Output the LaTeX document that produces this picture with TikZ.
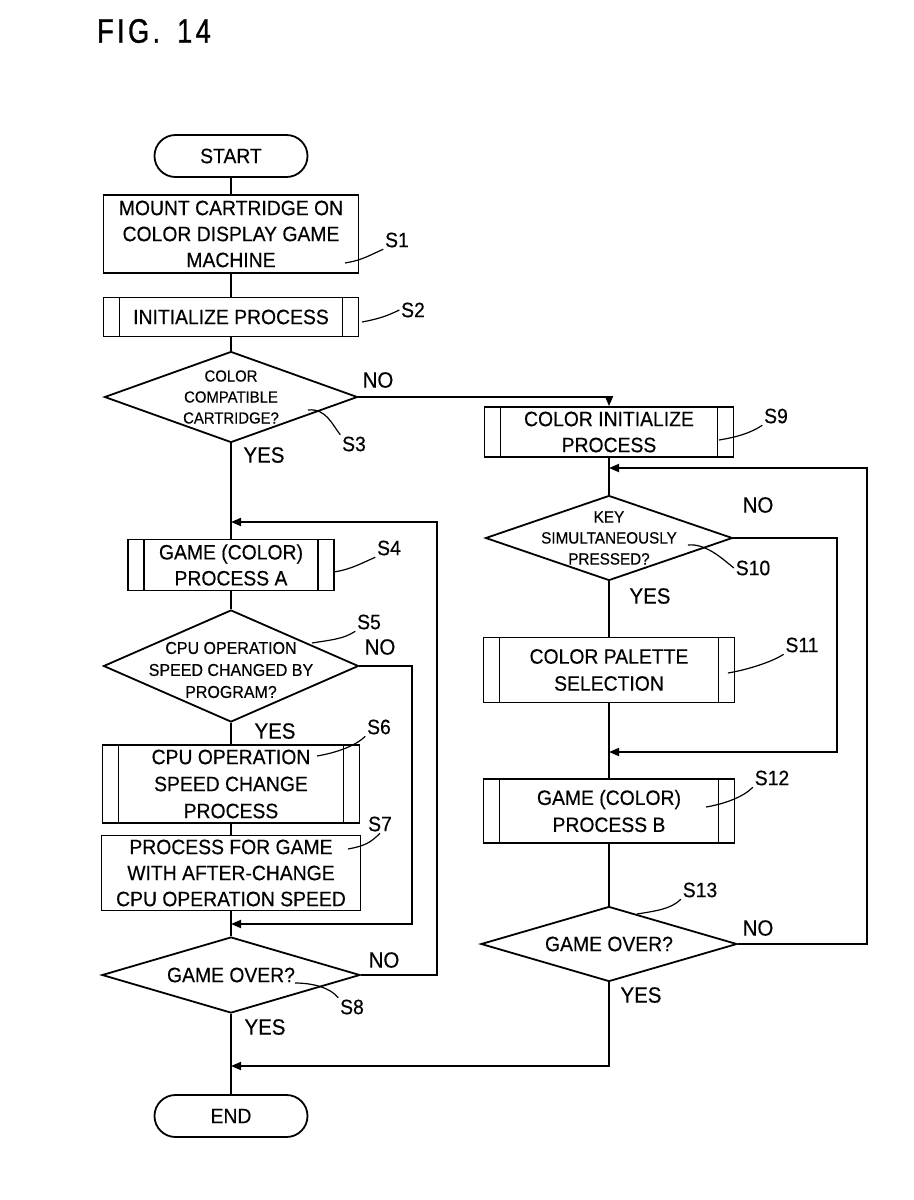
\documentclass[tikz,border=0pt]{standalone}
\usepackage{fontspec}
\setmainfont{Liberation Sans}[FakeStretch=0.93,FakeBold=0.4]
\newfontfamily\figfont{Liberation Sans}[FakeStretch=0.8,LetterSpace=10,FakeBold=1]
\usetikzlibrary{shapes.geometric,arrows.meta,calc}

\begin{document}
\begin{tikzpicture}[x=0.5pt,y=-0.5pt,line width=0.9pt,
    every node/.style={font=\fontsize{10.4}{13}\selectfont},
    term/.style={draw,rounded corners=10.5pt,minimum width=76.5pt,minimum height=21pt,inner sep=0pt},
    proc/.style={draw,align=center,inner sep=0pt},
    subproc/.style={proc,path picture={
        \draw[line width=0.9pt] ([xshift=8pt]path picture bounding box.north west) -- ([xshift=8pt]path picture bounding box.south west)
              ([xshift=-8pt]path picture bounding box.north east) -- ([xshift=-8pt]path picture bounding box.south east);}},
    decision/.style={draw,diamond,inner sep=0pt},
    dtext/.style={align=center,inner sep=0pt},
    stepno/.style={inner sep=0.5pt},
    yn/.style={font=\fontsize{11}{13}\selectfont,inner sep=0pt},
    arr/.style={-{Triangle[length=5pt,width=4pt]}},
    leader/.style={line width=0.6pt}]
    \useasboundingbox (0,0) rectangle (914,1200);

    \node[font=\figfont\fontsize{17}{20}\selectfont] (fig) at (154,31) {FIG.\hspace{3pt} 14};

    % left column
    \node[term] (start) at (231,156) {START};
    \node[proc,minimum width=127.5pt,minimum height=39pt] (s1) at (231,234) {MOUNT CARTRIDGE ON\\COLOR DISPLAY GAME\\MACHINE};
    \node[subproc,minimum width=127.5pt,minimum height=19.5pt] (s2) at (231,317) {INITIALIZE PROCESS};
    \node[decision,minimum width=126.5pt,minimum height=45.5pt] (s3) at (231,397) {};
    \node[dtext,font=\fontsize{8}{10.5}\selectfont] (s3t) at (s3) {COLOR\\COMPATIBLE\\CARTRIDGE?};
    \node[subproc,minimum width=103pt,minimum height=25.5pt] (s4) at (231,565) {GAME (COLOR)\\PROCESS A};
    \node[decision,minimum width=127.5pt,minimum height=56pt] (s5) at (231,666) {};
    \node[dtext,font=\fontsize{8.6}{11}\selectfont] (s5t) at ([yshift=-2pt]s5) {CPU OPERATION\\SPEED CHANGED BY\\PROGRAM?};
    \node[subproc,minimum width=128.5pt,minimum height=39pt,font=\fontsize{10.4}{13.5}\selectfont] (s6) at (231,784) {CPU OPERATION\\SPEED CHANGE\\PROCESS};
    \node[proc,minimum width=129.5pt,minimum height=37.5pt] (s7) at (231,873) {PROCESS FOR GAME\\WITH AFTER-CHANGE\\CPU OPERATION SPEED};
    \node[decision,minimum width=129pt,minimum height=38pt] (s8) at (231,975) {};
    \node[dtext] (s8t) at (s8) {GAME OVER?};
    \node[term] (stop) at (231,1116) {END};

    % right column
    \node[subproc,minimum width=124.5pt,minimum height=25pt] (s9) at (609,432) {COLOR INITIALIZE\\PROCESS};
    \node[decision,minimum width=123.5pt,minimum height=42.5pt] (s10) at (609,538) {};
    \node[dtext,font=\fontsize{8.2}{10.5}\selectfont] (s10t) at (s10) {KEY\\SIMULTANEOUSLY\\PRESSED?};
    \node[subproc,minimum width=125.5pt,minimum height=32.5pt,font=\fontsize{10.4}{13.5}\selectfont] (s11) at (609,670) {COLOR PALETTE\\SELECTION};
    \node[subproc,minimum width=125.5pt,minimum height=32pt,font=\fontsize{10.4}{13.5}\selectfont] (s12) at (609,811) {GAME (COLOR)\\PROCESS B};
    \node[decision,minimum width=128pt,minimum height=37.5pt] (s13) at (609,944) {};
    \node[dtext] (s13t) at (s13) {GAME OVER?};

    % junctions
    \coordinate (j1) at (231,522);
    \coordinate (c8) at (437,522);
    \coordinate (j2) at (231,924);
    \coordinate (c5) at (412,924);
    \coordinate (j3) at (231,1066);
    \coordinate (j4) at (609,468);
    \coordinate (c13) at (867,468);
    \coordinate (j5) at (609,752);
    \coordinate (c10) at (837,752);

    % flow lines
    \draw (start) -- (s1);
    \draw (s1) -- (s2);
    \draw (s2) -- (s3);
    \draw (s3) -- (s4);
    \draw (s4) -- (s5);
    \draw (s5) -- (s6);
    \draw (s6) -- (s7);
    \draw (s7) -- (s8);
    \draw (s8) -- (stop);
    \draw[arr] (s3.east) -| (s9.north);
    \draw[arr] (s5.east) -| (c5) -- (j2);
    \draw[arr] (s8.east) -| (c8) -- (j1);
    \draw (s9) -- (s10);
    \draw (s10) -- (s11);
    \draw (s11) -- (s12);
    \draw (s12) -- (s13);
    \draw[arr] (s10.east) -| (c10) -- (j5);
    \draw[arr] (s13.east) -| (c13) -- (j4);
    \draw[arr] (s13.south) |- (j3);

    % yes / no
    \node[yn] (n3) at (378,380) {NO};
    \node[yn] (y3) at (264,455) {YES};
    \node[yn] (n5) at (380,647) {NO};
    \node[yn] (y5) at (275,731) {YES};
    \node[yn] (n8) at (384,960) {NO};
    \node[yn] (y8) at (265,1027) {YES};
    \node[yn] (n10) at (758,505) {NO};
    \node[yn] (y10) at (650,596) {YES};
    \node[yn] (n13) at (758,928) {NO};
    \node[yn] (y13) at (641,995) {YES};

    % step numbers
    \node[stepno] (sl1) at (397,240) {S1};
    \node[stepno] (sl2) at (413,310) {S2};
    \node[stepno] (sl3) at (354,444) {S3};
    \node[stepno] (sl4) at (389,548) {S4};
    \node[stepno] (sl5) at (369,622) {S5};
    \node[stepno] (sl6) at (379,727) {S6};
    \node[stepno] (sl7) at (380,824) {S7};
    \node[stepno] (sl8) at (352,1007) {S8};
    \node[stepno] (sl9) at (776,416) {S9};
    \node[stepno] (sl10) at (753,568) {S10};
    \node[stepno] (sl11) at (802,645) {S11};
    \node[stepno] (sl12) at (772,778) {S12};
    \node[stepno] (sl13) at (700,890) {S13};

    \coordinate (t1) at (345,263);
    \coordinate (t2) at (362,322);
    \coordinate (t3) at (308,410);
    \coordinate (t4) at (334,572);
    \coordinate (t5) at (312,643);
    \coordinate (t6) at (317,756);
    \coordinate (t7) at (348,849);
    \coordinate (t8) at (295,983);
    \coordinate (t9) at (719,440);
    \coordinate (t10) at (688,545);
    \coordinate (t11) at (728,673);
    \coordinate (t12) at (706,807);
    \coordinate (t13) at (637,914);

    \draw[leader] (t1) .. controls +(18,-3) and +(-14,6) .. (sl1.south west);
    \draw[leader] (t2) .. controls +(16,-3) and +(-12,6) .. (sl2.west);
    \draw[leader] (t3) .. controls +(18,-2) and +(-8,-10) .. (sl3.north west);
    \draw[leader] (t4) .. controls +(18,-3) and +(-14,6) .. (sl4.south west);
    \draw[leader] (t5) .. controls +(18,-3) and +(-12,8) .. (sl5.south west);
    \draw[leader] (t6) .. controls +(18,-3) and +(-10,10) .. (sl6.south west);
    \draw[leader] (t7) .. controls +(16,-3) and +(-10,10) .. (sl7.south);
    \draw[leader] (t8) .. controls +(18,0) and +(-8,-10) .. (sl8.north west);
    \draw[leader] (t9) .. controls +(18,-3) and +(-12,8) .. (sl9.south west);
    \draw[leader] (t10) .. controls +(18,-2) and +(-10,-8) .. (sl10.west);
    \draw[leader] (t11) .. controls +(18,-3) and +(-12,8) .. (sl11.south west);
    \draw[leader] (t12) .. controls +(18,-3) and +(-10,10) .. (sl12.south west);
    \draw[leader] (t13) .. controls +(18,-3) and +(-10,10) .. (sl13.south west);
\end{tikzpicture}
\end{document}
